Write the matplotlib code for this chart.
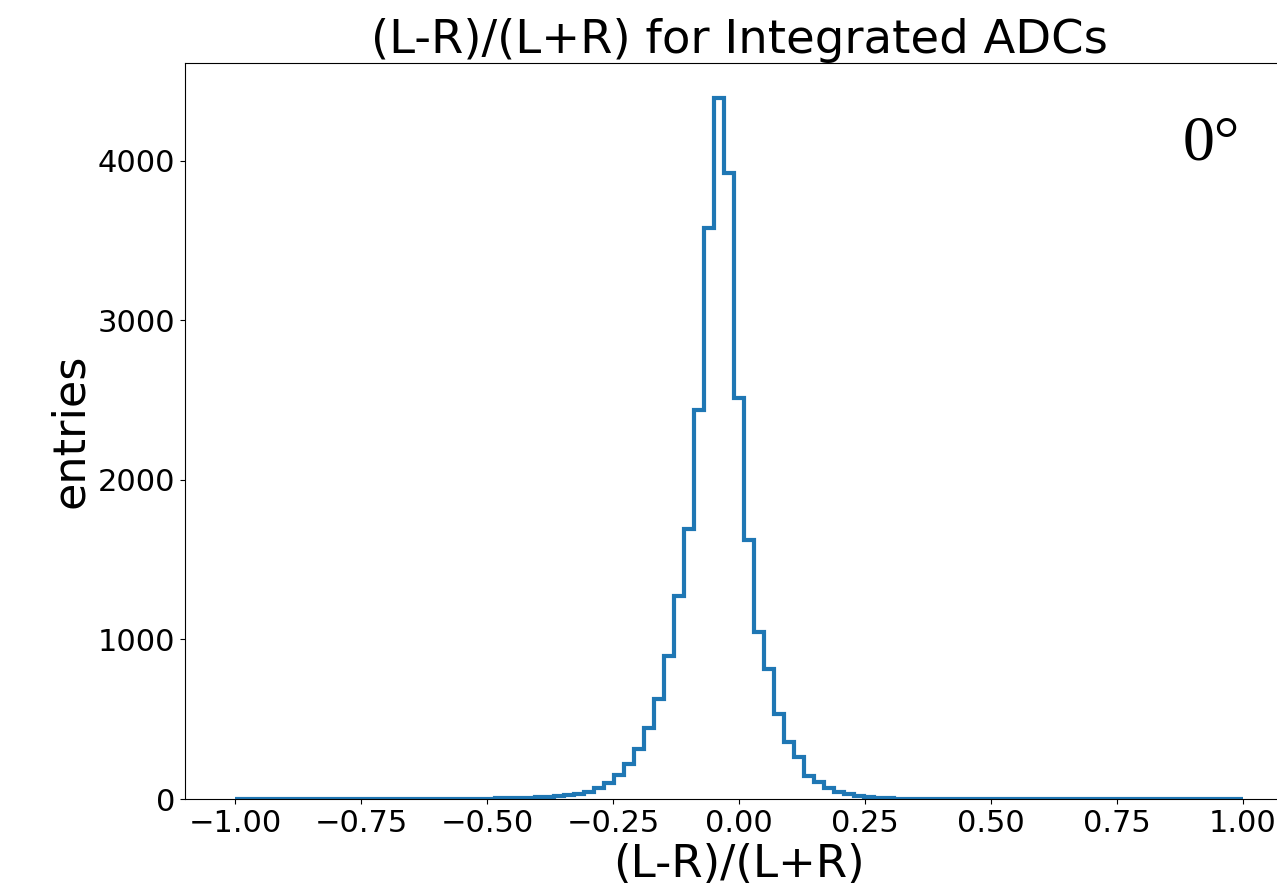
import numpy as np
import matplotlib
matplotlib.use('Agg')
import matplotlib.pyplot as plt

# histogram of (L-R)/(L+R), 101 bins over [-1, 1]
lo, hi, nbins = -1.0, 1.0, 101
counts = [0, 0, 0, 0, 0, 0, 0, 0, 0, 0,
          0, 0, 0, 0, 0, 0, 0, 1, 0, 1,
          1, 1, 2, 2, 3, 3, 4, 5, 6, 9,
          12, 15, 20, 26, 32, 46, 70, 102, 150, 218,
          315, 448, 625, 898, 1272, 1692, 2437, 3580, 4393, 3925,
          2515, 1625, 1046, 815, 533, 358, 265, 142, 104, 68,
          46, 31, 17, 10, 6, 4, 2, 1, 1, 0,
          0, 0, 0, 0, 0, 0, 0, 0, 0, 0,
          0, 0, 0, 0, 0, 0, 0, 0, 0, 0,
          0, 0, 0, 0, 0, 0, 0, 0, 0, 0,
          0]

edges = np.linspace(lo, hi, nbins + 1)
centers = 0.5 * (edges[:-1] + edges[1:])

fig = plt.figure(figsize=(12.77, 8.96), dpi=100)
# axes run a bit past the right edge of the figure, as in the original crop
ax = fig.add_axes([185 / 1277, 97 / 896, 1108 / 1277, 736 / 896])

ax.hist(centers, bins=edges, weights=counts, histtype='step',
        color='#1f77b4', linewidth=3)
ax.set_xlim(-1.1, 1.1)
ax.set_ylim(0, max(counts) * 1.05)
ax.set_xticks([-1.0, -0.75, -0.5, -0.25, 0.0, 0.25, 0.5, 0.75, 1.0])
ax.set_yticks([0, 1000, 2000, 3000, 4000])
ax.tick_params(labelsize=22)
ax.spines['right'].set_visible(False)

ax.set_title('(L-R)/(L+R) for Integrated ADCs', fontsize=33.5)
ax.set_xlabel('(L-R)/(L+R)', fontsize=32.5, labelpad=4)
ax.set_ylabel('entries', fontsize=32)

fig.text(1211 / 1277, (896 - 160) / 896, '0\u00b0', family='Liberation Serif',
         fontsize=46, ha='center', va='baseline')

fig.savefig('out.png', dpi=100)
